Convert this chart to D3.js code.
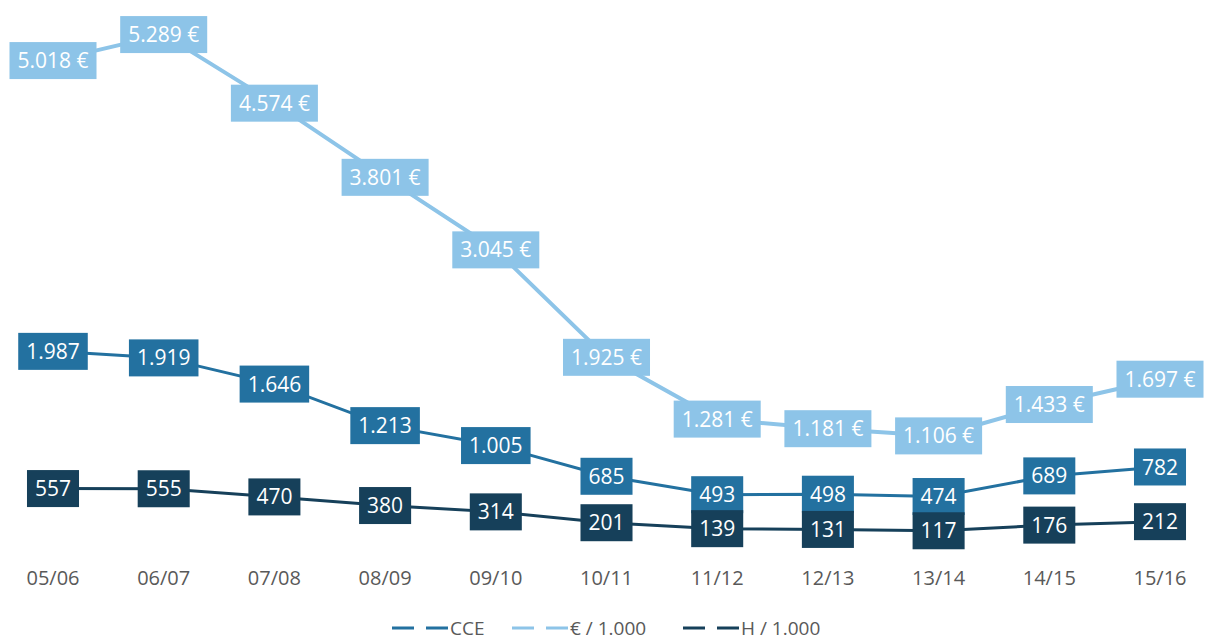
<!DOCTYPE html>
<meta charset="utf-8">
<style>
body {
  margin: 0;
  background: #fff;
  font-family: 'Open Sans', sans-serif;
}
.axis-label, .legend-text {
  fill: #595959;
}
.box-label {
  fill: #fff;
}
</style>
<body>
<svg width="1206" height="641"></svg>
<script src="https://cdn.jsdelivr.net/npm/d3@7"></script>
<script>

var seasons = ["05/06", "06/07", "07/08", "08/09", "09/10", "10/11", "11/12", "12/13", "13/14", "14/15", "15/16"];
var euros = [5018, 5289, 4574, 3801, 3045, 1925, 1281, 1181, 1106, 1433, 1697];
var cce = [1987, 1919, 1646, 1213, 1005, 685, 493, 498, 474, 689, 782];
var hours = [557, 555, 470, 380, 314, 201, 139, 131, 117, 176, 212];
var seriesNames = ["CCE", "€ / 1.000", "H / 1.000"];

var svg = d3.select("svg"),
    width = +svg.attr("width"),
    height = +svg.attr("height");

var x = d3.scalePoint()
    .domain(seasons)
    .range([53, 1160]);

var y = d3.scaleLinear()
    .domain([0, 5000])
    .range([542, 62.3]);

var fmt = d3.formatLocale({decimal: ",", thousands: ".", grouping: [3], currency: ["", " €"]});
var numFmt = fmt.format(",d");

// drawn back to front: light, mid, dark
var series = [
  {name: seriesNames[1], values: euros, color: "#8DC4E8", width: 4, label: function(v) { return numFmt(v) + " €"; }},
  {name: seriesNames[0], values: cce, color: "#2371A0", width: 3, label: function(v) { return numFmt(v); }},
  {name: seriesNames[2], values: hours, color: "#16405A", width: 3, label: function(v) { return numFmt(v); }}
];

var line = d3.line()
    .x(function(d, i) { return x(seasons[i]); })
    .y(function(d) { return y(d); });

// lines first
series.forEach(function(s) {
  svg.append("path")
      .datum(s.values)
      .attr("fill", "none")
      .attr("stroke", s.color)
      .attr("stroke-width", s.width)
      .attr("d", line);
});

// label boxes on top
series.forEach(function(s) {
  var g = svg.append("g").selectAll("g")
      .data(s.values)
      .enter().append("g")
      .attr("transform", function(d, i) { return "translate(" + x(seasons[i]) + "," + y(d) + ")"; });

  g.append("rect")
      .attr("fill", s.color);

  var texts = g.append("text")
      .attr("class", "box-label")
      .attr("text-anchor", "middle")
      .attr("dy", "0.36em")
      .style("font-size", "21px")
      .text(function(d) { return s.label(d); });

  texts.each(function() {
    var w = this.getComputedTextLength() + 16;
    d3.select(this.previousSibling)
        .attr("x", -w / 2)
        .attr("y", -18.5)
        .attr("width", w)
        .attr("height", 37);
  });
});

// x axis labels
svg.append("g").selectAll("text")
    .data(seasons)
    .enter().append("text")
    .attr("class", "axis-label")
    .attr("x", function(d) { return x(d); })
    .attr("y", 578)
    .attr("dy", "0.36em")
    .attr("text-anchor", "middle")
    .style("font-size", "20px")
    .text(function(d) { return d; });

// legend
var legendItems = [
  {name: seriesNames[0], color: "#2371A0", x: 392},
  {name: seriesNames[1], color: "#8DC4E8", x: 512},
  {name: seriesNames[2], color: "#16405A", x: 683}
];

var lg = svg.append("g").selectAll("g")
    .data(legendItems)
    .enter().append("g")
    .attr("transform", function(d) { return "translate(" + d.x + ",628)"; });

lg.append("line")
    .attr("x1", 0)
    .attr("x2", 58)
    .attr("stroke", function(d) { return d.color; })
    .attr("stroke-width", 3)
    .attr("stroke-dasharray", "22,12");

lg.append("text")
    .attr("class", "legend-text")
    .attr("x", 58)
    .attr("dy", "0.36em")
    .style("font-size", "19px")
    .text(function(d) { return d.name; });

</script>
</body>
</html>
